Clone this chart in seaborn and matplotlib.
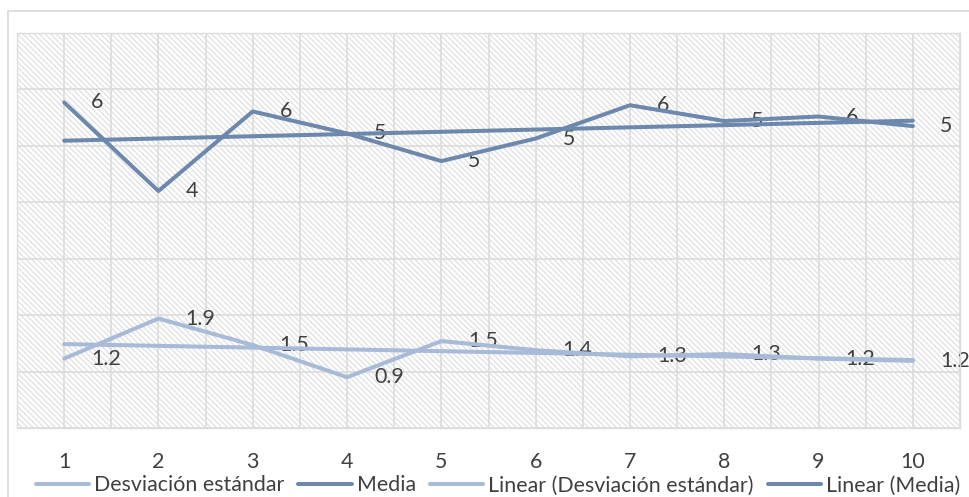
import numpy as np
import pandas as pd
import matplotlib
matplotlib.use("Agg")
import matplotlib.pyplot as plt
import seaborn as sns
from matplotlib.patches import Rectangle

categories = [1, 2, 3, 4, 5, 6, 7, 8, 9, 10]
desviacion = [1.23, 1.94, 1.47, 0.90, 1.54, 1.38, 1.27, 1.31, 1.23, 1.19]
media = [5.77, 4.20, 5.61, 5.22, 4.73, 5.13, 5.72, 5.44, 5.52, 5.35]
series_names = ["Desviación estándar", "Media",
                "Linear (Desviación estándar)", "Linear (Media)"]

c_light = "#A7BBD8"
c_dark = "#6C88AD"
txt_c = "#404040"
grid_c = "#DCDCDC"

sns.set_theme(style="white")
plt.rcParams["font.family"] = ["Lato", "DejaVu Sans"]
plt.rcParams["hatch.color"] = "#E0E0E0"
plt.rcParams["hatch.linewidth"] = 0.9

fig = plt.figure(figsize=(9.69, 4.97), dpi=100)
# outer chart border
fig.patches.append(Rectangle((8 / 969, -0.1), 1.2, 1 - 11 / 497 + 0.1,
                             transform=fig.transFigure, fill=False,
                             edgecolor="#D9D9D9", linewidth=1.2, zorder=0))
ax = fig.add_axes([17 / 969, 1 - 428 / 497, (960 - 17) / 969, (428 - 33) / 497])

ax.set_xlim(0.5, 10.5)
ax.set_ylim(0, 7)

# hatched background
ax.add_patch(Rectangle((0, 0), 1, 1, transform=ax.transAxes, facecolor="white",
                       hatch="\\\\\\\\\\\\", edgecolor="#E0E0E0", linewidth=0, zorder=0))
for xv in np.arange(0.5, 10.51, 0.5):
    ax.axvline(xv, color=grid_c, linewidth=1.2, zorder=0.5)
for yv in range(0, 8):
    ax.axhline(yv, color=grid_c, linewidth=1.2, zorder=0.5)

df = pd.DataFrame({"x": categories, "Desviación estándar": desviacion, "Media": media})
x = np.array(categories, dtype=float)
sd_fit = np.polyval(np.polyfit(x, desviacion, 1), x)
me_fit = np.polyval(np.polyfit(x, media, 1), x)

lw = 2.9
sns.lineplot(data=df, x="x", y="Desviación estándar", color=c_light, linewidth=lw,
             ax=ax, label=series_names[0], zorder=3)
sns.lineplot(data=df, x="x", y="Media", color=c_dark, linewidth=lw,
             ax=ax, label=series_names[1], zorder=3)
sns.lineplot(x=x, y=sd_fit, color=c_light, linewidth=lw, ax=ax,
             label=series_names[2], zorder=3)
sns.lineplot(x=x, y=me_fit, color=c_dark, linewidth=lw, ax=ax,
             label=series_names[3], zorder=3)

fs = 15.4
for xi, v in zip(categories, desviacion):
    ax.annotate(f"{v:.1f}", (xi, v), xytext=(27, 0), textcoords="offset pixels",
                ha="left", va="center", fontsize=fs, color=txt_c, zorder=1)
for xi, v in zip(categories, media):
    ax.annotate(f"{v:.0f}", (xi, v), xytext=(27, 0), textcoords="offset pixels",
                ha="left", va="center", fontsize=fs, color=txt_c, zorder=1)

ax.set_xticks(categories)
ax.set_xticklabels([str(c) for c in categories], fontsize=fs, color=txt_c)
ax.set_yticks([])
ax.tick_params(axis="x", length=0, pad=17)
ax.set_xlabel("")
ax.set_ylabel("")
for s in ax.spines.values():
    s.set_color(grid_c)
    s.set_linewidth(1.0)

leg = ax.legend(loc="upper center", bbox_to_anchor=(0.51, -0.12), ncol=4,
                frameon=False, fontsize=fs, handlelength=2.5, handletextpad=0.23,
                columnspacing=0.65, borderaxespad=0, borderpad=0)
for t in leg.get_texts():
    t.set_color(txt_c)

fig.savefig("out.png", dpi=100)
